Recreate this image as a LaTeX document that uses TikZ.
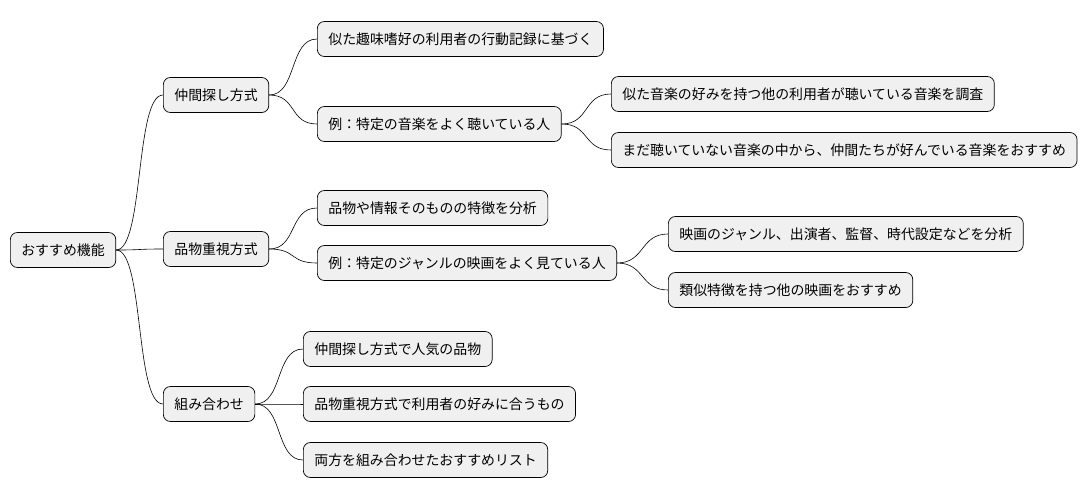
\documentclass[tikz,border=0pt]{standalone}
\usepackage{fontspec}
\setmainfont{Noto Sans CJK JP}
\tikzset{
  box/.style={draw=black,fill=black!6,rounded corners=7pt,anchor=west,minimum height=35pt,
    inner xsep=11pt,font=\fontsize{13.9pt}{15pt}\selectfont,line width=0.7pt},
  link/.style={line width=0.6pt}
}
\begin{document}
\begin{tikzpicture}[x=1pt,y=-1pt]
\useasboundingbox (0,0) rectangle (1090,499);
\node[box] (root) at (10,250) {おすすめ機能};
%
\node[box] (nakama) at (163,95) {仲間探し方式};
\node[box] (shina) at (163,249) {品物重視方式};
\node[box] (kumi) at (163,404) {組み合わせ};
%
\node[box] (n1) at (317,39) {似た趣味嗜好の利用者の行動記録に基づく};
\node[box] (n2) at (317,124) {例：特定の音楽をよく聴いている人};
\node[box] (n21) at (611,94) {似た音楽の好みを持つ他の利用者が聴いている音楽を調査};
\node[box] (n22) at (611,150) {まだ聴いていない音楽の中から、仲間たちが好んでいる音楽をおすすめ};
%
\node[box] (s1) at (317,208) {品物や情報そのものの特徴を分析};
\node[box] (s2) at (317,263) {例：特定のジャンルの映画をよく見ている人};
\node[box] (s21) at (668,234) {映画のジャンル、出演者、監督、時代設定などを分析};
\node[box] (s22) at (668,290) {類似特徴を持つ他の映画をおすすめ};
%
\node[box] (k1) at (303,349) {仲間探し方式で人気の品物};
\node[box] (k2) at (303,404) {品物重視方式で利用者の好みに合うもの};
\node[box] (k3) at (303,460) {両方を組み合わせたおすすめリスト};
%
\foreach \a/\b in {root/nakama,root/shina,root/kumi,nakama/n1,nakama/n2,n2/n21,n2/n22,
  shina/s1,shina/s2,s2/s21,s2/s22,kumi/k1,kumi/k2,kumi/k3}
  \draw[link] (\a.east) .. controls ([xshift=28pt]\a.east) and ([xshift=-28pt]\b.west) .. (\b.west);
\end{tikzpicture}
\end{document}
